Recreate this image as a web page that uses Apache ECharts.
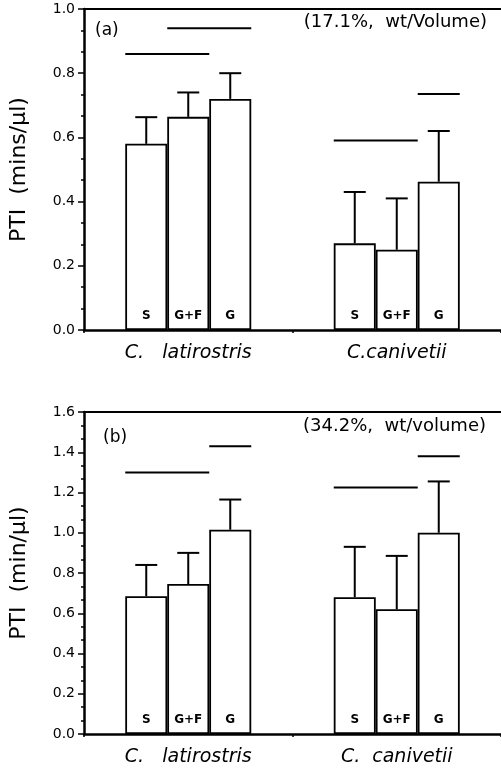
<!DOCTYPE html>
<html lang="en" style="background: #FFFFFF;height: 100%">

<head>
    <meta charset="utf-8" />
    <title>PTI bars</title>
    <script type="text/javascript" src="https://cdn.jsdelivr.net/npm/echarts@6/dist/echarts.min.js"></script>
</head>

<body style="margin: 0;height: 100%">
    <div id="chart" style="width:501px;height:770px"></div>
    <script>
    // categories
    let speciesA = ['C.   latirostris', 'C.canivetii']
    let speciesB = ['C.   latirostris', 'C.  canivetii']
    let groups = ['S', 'G+F', 'G']

    // panel (a) 17.1% wt/Volume : mean and top of error bar, per group [latirostris, canivetii]
    let meanA_S = [0.58, 0.27]
    let meanA_GF = [0.664, 0.25]
    let meanA_G = [0.72, 0.462]
    let errA_S = [0.663, 0.43]
    let errA_GF = [0.74, 0.41]
    let errA_G = [0.80, 0.62]

    // panel (b) 34.2% wt/volume
    let meanB_S = [0.685, 0.68]
    let meanB_GF = [0.745, 0.62]
    let meanB_G = [1.015, 1.0]
    let errB_S = [0.84, 0.93]
    let errB_GF = [0.90, 0.885]
    let errB_G = [1.165, 1.255]

    // significance lines: [category, first bar, last bar, level]
    let sigA = [[0, 0, 1, 0.86], [0, 1, 2, 0.94], [1, 0, 1, 0.59], [1, 2, 2, 0.735]]
    let sigB = [[0, 0, 1, 1.30], [0, 2, 2, 1.43], [1, 0, 1, 1.225], [1, 2, 2, 1.38]]

    let yTicksA = [0, 1.0, 0.2]
    let yTicksB = [0, 1.6, 0.2]

    let BW = 42
    let FONT = 'DejaVu Sans'

    let chart = echarts.init(document.getElementById('chart'))

    function errData(means, errs) {
        let out = []
        for (let g = 0; g < 3; g++) {
            for (let c = 0; c < 2; c++) {
                out.push([c, g, means[g][c], errs[g][c]])
            }
        }
        return out
    }

    function renderErr(params, api) {
        let bar = api.coord([api.value(0), api.value(2)])
        let top = api.coord([api.value(0), api.value(3)])
        let x = bar[0] + (api.value(1) - 1) * BW
        let st = { stroke: '#000', lineWidth: 2 }
        return {
            type: 'group',
            children: [
                { type: 'line', shape: { x1: x, y1: bar[1], x2: x, y2: top[1] }, style: st },
                { type: 'line', shape: { x1: x - 11, y1: top[1], x2: x + 11, y2: top[1] }, style: st }
            ]
        }
    }

    function renderSig(params, api) {
        let p = api.coord([api.value(0), api.value(3)])
        let x1 = p[0] + (api.value(1) - 1) * BW - BW / 2
        let x2 = p[0] + (api.value(2) - 1) * BW + BW / 2
        return {
            type: 'line',
            shape: { x1: x1, y1: p[1], x2: x2, y2: p[1] },
            style: { stroke: '#000', lineWidth: 2 }
        }
    }

    function barSeries(name, data, idx) {
        return {
            type: 'bar',
            name: name,
            data: data,
            xAxisIndex: idx * 2,
            yAxisIndex: idx,
            barWidth: BW,
            barGap: '0%',
            itemStyle: { color: '#fff', borderColor: '#000', borderWidth: 1.8 },
            label: {
                show: true,
                position: 'insideBottom',
                distance: 8,
                formatter: name,
                fontFamily: FONT,
                fontWeight: 'bold',
                fontSize: 12,
                color: '#000'
            },
            silent: true
        }
    }

    function xAxis(idx, cats) {
        return {
            type: 'category',
            gridIndex: idx,
            data: cats,
            axisLine: { lineStyle: { color: '#000', width: 2.5 } },
            axisTick: { show: true, length: 3, lineStyle: { color: '#000', width: 1.5 } },
            axisLabel: { margin: 14, fontFamily: FONT, fontStyle: 'italic', fontSize: 19, color: '#000' }
        }
    }

    // top frame line only
    function topAxis(idx, cats) {
        return {
            type: 'category',
            gridIndex: idx,
            position: 'top',
            data: cats,
            axisLine: { lineStyle: { color: '#000', width: 2 } },
            axisTick: { show: false },
            axisLabel: { show: false }
        }
    }

    function yAxis(idx, ticks, name) {
        return {
            type: 'value',
            gridIndex: idx,
            min: ticks[0],
            max: ticks[1],
            interval: ticks[2],
            name: name,
            nameLocation: 'middle',
            nameGap: 54,
            nameTextStyle: { fontFamily: FONT, fontSize: 22, color: '#000' },
            axisLine: { show: true, lineStyle: { color: '#000', width: 2.5 } },
            axisTick: { show: true, length: 6, lineStyle: { color: '#000', width: 1.5 } },
            minorTick: { show: true, splitNumber: 3, length: 3, lineStyle: { color: '#000', width: 1.5 } },
            splitLine: { show: false },
            axisLabel: {
                margin: 9,
                fontFamily: FONT,
                fontSize: 14,
                color: '#000',
                formatter: v => v.toFixed(1)
            }
        }
    }

    let txt = { fontFamily: FONT, fontWeight: 'normal', color: '#000' }

    let option = {
        animation: false,
        backgroundColor: '#fff',
        title: [
            { text: '(a)', left: 90, top: 17, textStyle: Object.assign({ fontSize: 17 }, txt) },
            { text: '(17.1%,  wt/Volume)', right: 9, top: 8, textStyle: Object.assign({ fontSize: 18 }, txt) },
            { text: '(b)', left: 98, top: 424, textStyle: Object.assign({ fontSize: 17 }, txt) },
            { text: '(34.2%,  wt/volume)', right: 10, top: 412, textStyle: Object.assign({ fontSize: 18 }, txt) }
        ],
        grid: [
            { left: 83, top: 9, width: 420, height: 321 },
            { left: 83, top: 412, width: 420, height: 322 }
        ],
        xAxis: [xAxis(0, speciesA), topAxis(0, speciesA), xAxis(1, speciesB), topAxis(1, speciesB)],
        yAxis: [yAxis(0, yTicksA, 'PTI  (mins/µl)'), yAxis(1, yTicksB, 'PTI  (min/µl)')],
        series: [
            barSeries(groups[0], meanA_S, 0),
            barSeries(groups[1], meanA_GF, 0),
            barSeries(groups[2], meanA_G, 0),
            barSeries(groups[0], meanB_S, 1),
            barSeries(groups[1], meanB_GF, 1),
            barSeries(groups[2], meanB_G, 1),
            {
                type: 'custom', xAxisIndex: 0, yAxisIndex: 0, silent: true, z: 3,
                data: errData([meanA_S, meanA_GF, meanA_G], [errA_S, errA_GF, errA_G]),
                renderItem: renderErr
            },
            {
                type: 'custom', xAxisIndex: 2, yAxisIndex: 1, silent: true, z: 3,
                data: errData([meanB_S, meanB_GF, meanB_G], [errB_S, errB_GF, errB_G]),
                renderItem: renderErr
            },
            { type: 'custom', xAxisIndex: 0, yAxisIndex: 0, silent: true, data: sigA, renderItem: renderSig },
            { type: 'custom', xAxisIndex: 2, yAxisIndex: 1, silent: true, data: sigB, renderItem: renderSig }
        ]
    }
    chart.setOption(option)
    </script>
</body>

</html>
